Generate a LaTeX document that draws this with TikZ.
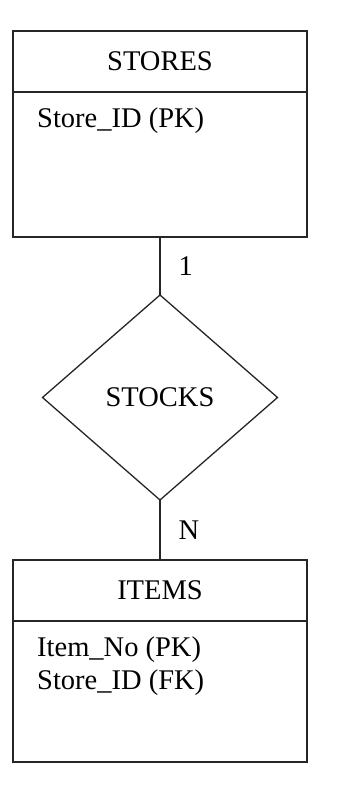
\documentclass[tikz,border=0pt]{standalone}
\usepackage{fontspec}
\setmainfont{Liberation Serif}
\usetikzlibrary{positioning,shapes.geometric}

\begin{document}
\begin{tikzpicture}[
    entity/.style={draw=black!85,line width=1.3pt,outer sep=0pt,inner sep=0pt,
      minimum width=294pt,minimum height=61pt},
    attrbox/.style={draw=black!85,line width=1.3pt,outer sep=0pt,inner sep=0pt,
      minimum width=294pt},
    rel/.style={diamond,draw=black!85,line width=1.3pt,outer sep=0pt,inner sep=0pt,
      minimum width=235pt,minimum height=205pt},
    attr/.style={anchor=north west,align=left,inner sep=0pt},
    card/.style={inner sep=0pt},
    link/.style={draw=black!85,line width=1.3pt},
    every node/.append style={font=\fontsize{28.5}{32.5}\selectfont}
  ]
    \useasboundingbox (0,0) rectangle (344pt,797pt);
    \node[entity] (stores) at (160pt,735.5pt) {STORES};
    \node[attrbox,minimum height=145pt,below=0pt of stores] (storesA) {};
    \node[attr] (storesK) at ([shift={(24pt,-16pt)}]storesA.north west) {Store\_ID (PK)};
    \node[rel,below=58pt of storesA] (stocks) {STOCKS};
    \node[entity,below=60pt of stocks] (items) {ITEMS};
    \node[attrbox,minimum height=141pt,below=0pt of items] (itemsA) {};
    \node[attr] (itemsK) at ([shift={(24pt,-16pt)}]itemsA.north west) {Item\_No (PK)\\Store\_ID (FK)};
    \draw[link] (storesA) -- node[card,right=18pt] {1} (stocks);
    \draw[link] (stocks) -- node[card,right=18pt] {N} (items);
  \end{tikzpicture}
\end{document}
